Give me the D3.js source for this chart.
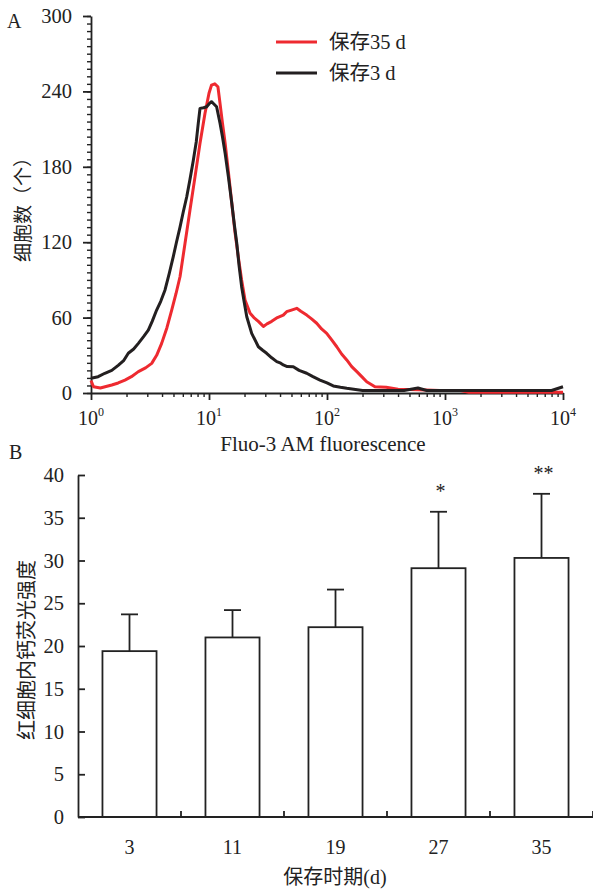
<!DOCTYPE html>
<html>
<head>
<meta charset="utf-8">
<script src="https://cdn.jsdelivr.net/npm/d3@7"></script>
<style>
  html, body { margin: 0; padding: 0; background: #fff; }
  svg { display: block; }
  text { font-family: "Liberation Serif", "Noto Sans CJK SC", serif; fill: #222; }
</style>
</head>
<body>
<svg id="chart" width="593" height="890"></svg>
<script>
// ---------- Panel A data (flow cytometry histograms) ----------
const fluo35X = [1.0, 1.05, 1.2, 1.5, 1.7, 1.94, 2.2, 2.52, 2.9, 3.27, 3.6, 3.97, 4.4, 4.83, 5.25, 5.68, 6.26, 6.9, 7.61, 8.39, 9.25, 10.0, 10.5, 11.2, 11.9, 12.4, 13.0, 13.7, 14.6, 15.6, 16.6, 17.7, 18.9, 20.2, 22.3, 24, 26.2, 28.9, 31, 34, 38, 42.6, 45.5, 50, 55.4, 60, 67.3, 74, 81.8, 90, 99.4, 110, 121, 133, 147, 162, 179, 197, 217, 255, 317, 400, 600, 900, 1350, 1600, 3000, 10000];
const fluo35Y = [10, 5, 4, 6.4, 8, 10.3, 13, 17, 20, 23.6, 30, 39.5, 52, 66, 79, 92.5, 119, 145.6, 172, 198.7, 222.6, 238.5, 245, 246, 243.7, 230.5, 215, 198.7, 176, 151, 128, 108.5, 90, 74, 63.4, 60, 57, 53, 55, 57, 60, 62, 64.7, 66, 67.4, 65, 62, 59, 55.5, 51, 47.5, 42, 36.8, 31, 26.3, 21, 17, 13, 9, 5, 4.5, 3, 2.5, 2, 2, 0.5, 0.5, 0.5];
const fluo3X = [1.0, 1.15, 1.31, 1.5, 1.7, 1.9, 2.07, 2.3, 2.52, 2.8, 3.06, 3.3, 3.6, 3.9, 4.24, 4.6, 4.98, 5.3, 5.68, 6.05, 6.47, 6.9, 7.36, 7.8, 8.11, 8.39, 9.0, 9.56, 10.0, 10.5, 11.0, 11.6, 12.4, 13.0, 13.7, 14.6, 15.6, 16.4, 17.2, 18.0, 18.9, 19.9, 20.9, 23.0, 26.2, 28.5, 30.8, 34, 37.5, 40, 42.6, 46, 51.8, 58, 67.3, 76, 87.2, 100, 113, 130, 147, 200, 300, 450, 590, 700, 1000, 2000, 4000, 8000, 10000];
const fluo3Y = [11.7, 13, 15.7, 18, 22, 26, 31.6, 35, 39.5, 45, 50, 57, 66, 73, 82, 95, 108.5, 120, 132, 144, 156, 170, 185, 200, 214.6, 226.5, 227, 227.8, 230, 231.8, 230, 227.8, 214.6, 204, 190.7, 172, 151, 134, 119, 101, 84.6, 72, 60.7, 47.5, 36.8, 34, 31.6, 28, 25, 24, 22.3, 21, 20.9, 18, 15.7, 13, 10.3, 8, 5.6, 4.5, 3.7, 2, 2, 2, 4, 2, 2, 2, 2, 2, 5];
const seriesNames = ["保存35 d", "保存3 d"];
const seriesColors = ["#ee2a30", "#231f20"];
const countTicks = [0, 60, 120, 180, 240, 300];
const decadeTicks = [1, 10, 100, 1000, 10000];
const decadeExp = ["0", "1", "2", "3", "4"];

// ---------- Panel B data ----------
const days = ["3", "11", "19", "27", "35"];
const meanIntensity = [19.4, 21.0, 22.2, 29.1, 30.3];
const sdIntensity = [4.3, 3.2, 4.4, 6.6, 7.5];
const significance = ["", "", "", "*", "**"];
const intensityTicks = [0, 5, 10, 15, 20, 25, 30, 35, 40];

const svg = d3.select("#chart");
svg.append("rect").attr("width", 593).attr("height", 890).attr("fill", "#fff");

// ================= Panel A =================
const xA = d3.scaleLog().domain([1, 10000]).range([91, 563]);
const yA = d3.scaleLinear().domain([0, 300]).range([393, 16]);
const gA = svg.append("g");

// minor y ticks
gA.append("g").attr("transform", `translate(${xA.range()[0]},0)`)
  .call(d3.axisLeft(yA).tickValues(d3.range(0, 301, 6)).tickSize(4).tickFormat(""))
  .call(g => g.select(".domain").remove())
  .call(g => g.selectAll("line").attr("stroke", "#222").attr("stroke-width", 1.4));
// major y axis
gA.append("g").attr("transform", `translate(${xA.range()[0]},0)`)
  .call(d3.axisLeft(yA).tickValues(countTicks).tickSize(8).tickSizeOuter(0).tickPadding(11))
  .call(g => g.select(".domain").attr("stroke", "#222").attr("stroke-width", 1.8))
  .call(g => g.selectAll("line").attr("stroke", "#222").attr("stroke-width", 1.8))
  .call(g => g.selectAll("text").attr("font-size", 20.5).attr("fill", "#222")
      .style("font-family", "Liberation Serif"));

// x axis minor ticks
const minorX = [];
for (let d = 1; d < 10000; d *= 10) for (let k = 2; k <= 9; k++) minorX.push(d * k);
gA.append("g").attr("transform", `translate(0,${yA(0)})`)
  .call(d3.axisBottom(xA).tickValues(minorX).tickSize(4).tickFormat(""))
  .call(g => g.select(".domain").remove())
  .call(g => g.selectAll("line").attr("stroke", "#222").attr("stroke-width", 1.4));
// x axis major
gA.append("g").attr("transform", `translate(0,${yA(0)})`)
  .call(d3.axisBottom(xA).tickValues(decadeTicks).tickSize(7).tickSizeOuter(0).tickFormat(""))
  .call(g => g.select(".domain").attr("stroke", "#222").attr("stroke-width", 1.8))
  .call(g => g.selectAll("line").attr("stroke", "#222").attr("stroke-width", 1.8));
gA.selectAll("text.dec").data(decadeTicks).join("text")
  .attr("class", "dec")
  .attr("x", d => xA(d)).attr("y", 425)
  .attr("text-anchor", "middle").attr("font-size", 20)
  .each(function(d, i) {
    const t = d3.select(this);
    t.append("tspan").text("10");
    t.append("tspan").attr("font-size", 12).attr("dy", -9).text(decadeExp[i]);
  });

// curves
const lineA = d3.line().x(d => xA(d[0])).y(d => yA(d[1]));
const seriesData = [
  d3.zip(fluo35X, fluo35Y),
  d3.zip(fluo3X, fluo3Y)
];
gA.selectAll("path.curve").data(seriesData).join("path")
  .attr("class", "curve")
  .attr("d", lineA)
  .attr("fill", "none")
  .attr("stroke", (d, i) => seriesColors[i])
  .attr("stroke-width", 3)
  .attr("stroke-linejoin", "round");

// legend
const legA = gA.append("g");
seriesNames.forEach((name, i) => {
  const y = 42 + i * 31;
  legA.append("line").attr("x1", 276).attr("x2", 317).attr("y1", y).attr("y2", y)
    .attr("stroke", seriesColors[i]).attr("stroke-width", 3);
  legA.append("text").attr("x", 329).attr("y", y + 7).attr("font-size", 20.5).text(name);
});

// titles
gA.append("text").attr("x", 7).attr("y", 28).attr("font-size", 20).text("A");
gA.append("text").attr("x", 323).attr("y", 451).attr("text-anchor", "middle")
  .attr("font-size", 21).text("Fluo-3 AM fluorescence");
gA.append("text").attr("transform", "translate(30,205) rotate(-90)")
  .attr("text-anchor", "middle").attr("font-size", 19).text("细胞数（个）");

// ================= Panel B =================
const xB = d3.scaleBand().domain(days).range([78, 593]).padding(0);
const yB = d3.scaleLinear().domain([0, 40]).range([817, 475]);
const gB = svg.append("g");
const barW = xB.bandwidth() * 0.525;

gB.append("text").attr("x", 9).attr("y", 459).attr("font-size", 20).text("B");

// y axis (inward ticks)
gB.append("g").attr("transform", `translate(${xB.range()[0]},0)`)
  .call(d3.axisLeft(yB).tickValues(intensityTicks).tickSizeInner(-7).tickSizeOuter(0).tickPadding(14))
  .call(g => g.select(".domain").attr("stroke", "#222").attr("stroke-width", 1.8))
  .call(g => g.selectAll("line").attr("stroke", "#222").attr("stroke-width", 1.8))
  .call(g => g.selectAll("text").attr("font-size", 20.5).attr("fill", "#222")
      .style("font-family", "Liberation Serif"));

// bars
gB.selectAll("rect.bar").data(days).join("rect")
  .attr("class", "bar")
  .attr("x", d => xB(d) + (xB.bandwidth() - barW) / 2)
  .attr("y", (d, i) => yB(meanIntensity[i]))
  .attr("width", barW)
  .attr("height", (d, i) => yB(0) - yB(meanIntensity[i]))
  .attr("fill", "#fff").attr("stroke", "#222").attr("stroke-width", 1.8);

// error bars
const capW = 17;
days.forEach((d, i) => {
  const cx = xB(d) + xB.bandwidth() / 2;
  const top = yB(meanIntensity[i] + sdIntensity[i]);
  gB.append("line").attr("x1", cx).attr("x2", cx)
    .attr("y1", yB(meanIntensity[i])).attr("y2", top)
    .attr("stroke", "#222").attr("stroke-width", 1.8);
  gB.append("line").attr("x1", cx - capW / 2).attr("x2", cx + capW / 2)
    .attr("y1", top).attr("y2", top)
    .attr("stroke", "#222").attr("stroke-width", 1.8);
  if (significance[i]) {
    gB.append("text").attr("x", cx + 2).attr("y", top - 14)
      .attr("text-anchor", "middle").attr("font-size", 20).text(significance[i]);
  }
});

// x axis
const xAxisB = gB.append("g").attr("transform", `translate(0,${yB(0)})`);
xAxisB.append("line").attr("x1", xB.range()[0]).attr("x2", xB.range()[1])
  .attr("stroke", "#222").attr("stroke-width", 1.8);
xAxisB.selectAll("line.tk").data(days).join("line")
  .attr("class", "tk")
  .attr("x1", d => xB(d) + xB.bandwidth()).attr("x2", d => xB(d) + xB.bandwidth())
  .attr("y1", 0).attr("y2", -6)
  .attr("stroke", "#222").attr("stroke-width", 1.8);
xAxisB.selectAll("text.cat").data(days).join("text")
  .attr("class", "cat")
  .attr("x", d => xB(d) + xB.bandwidth() / 2).attr("y", 37)
  .attr("text-anchor", "middle").attr("font-size", 20).text(d => d);

gB.append("text").attr("x", 335).attr("y", 884).attr("text-anchor", "middle")
  .attr("font-size", 20).text("保存时期(d)");
gB.append("text").attr("transform", "translate(34,650) rotate(-90)")
  .attr("text-anchor", "middle").attr("font-size", 20).text("红细胞内钙荧光强度");
</script>
</body>
</html>
